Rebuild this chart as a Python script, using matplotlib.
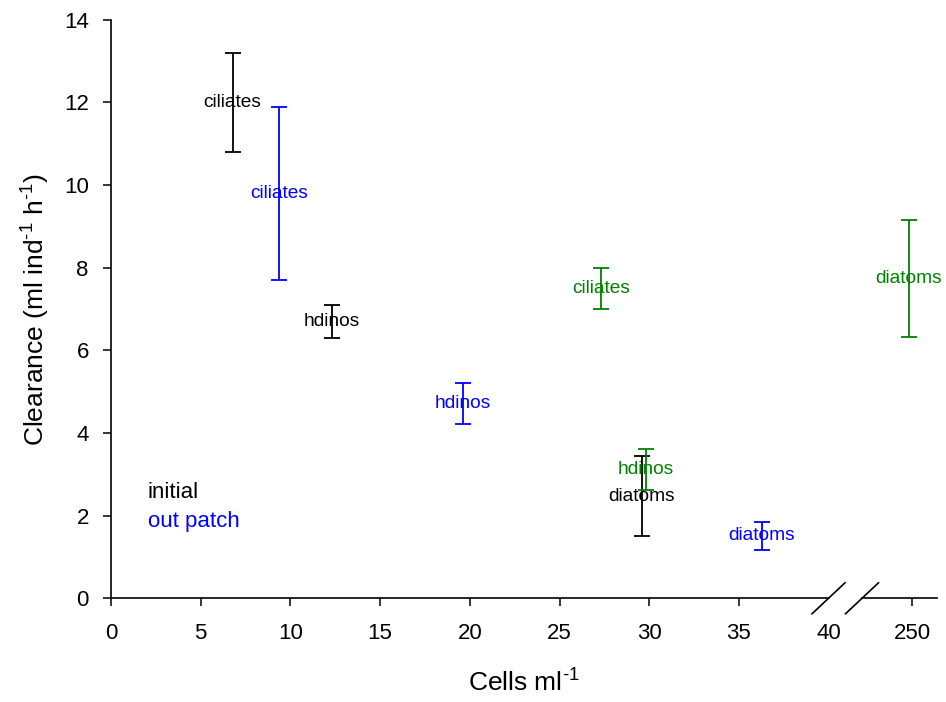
import matplotlib
matplotlib.use("Agg")
import matplotlib.pyplot as plt
from matplotlib.lines import Line2D

plt.rcParams['font.family'] = ['Liberation Sans', 'DejaVu Sans']
plt.rcParams['mathtext.fontset'] = 'custom'
plt.rcParams['mathtext.rm'] = 'Liberation Sans'
plt.rcParams['mathtext.it'] = 'Liberation Sans'

# Data: (cells ml-1, clearance mean, clearance error)
groups = ["initial", "out patch", "in patch"]
colors = ["black", "#0000FF", "#008000"]
labels_initial = ["ciliates", "hdinos", "diatoms"]
x_initial = [6.78, 12.30, 29.58]
y_initial = [12.0, 6.70, 2.47]
e_initial = [1.20, 0.40, 0.96]

labels_out = ["ciliates", "hdinos", "diatoms"]
x_out = [9.38, 19.60, 36.27]
y_out = [9.80, 4.71, 1.51]
e_out = [2.09, 0.49, 0.34]

labels_in = ["ciliates", "hdinos"]
x_in = [27.30, 29.82]
y_in = [7.50, 3.12]
e_in = [0.50, 0.49]

# point beyond the axis break
labels_in_far = ["diatoms"]
x_in_far = [247.0]
y_in_far = [7.74]
e_in_far = [1.41]

xticks_main = [0, 5, 10, 15, 20, 25, 30, 35, 40]
xticks_far = [250]
yticks = [0, 2, 4, 6, 8, 10, 12, 14]

W, H = 946, 702
fig = plt.figure(figsize=(W / 100, H / 100), dpi=100)

def fx(px):
    return px / W

def fy(py):
    return 1 - py / H

ax_bottom, ax_top = 598.3, 19.5
ax1 = fig.add_axes([fx(111), fy(ax_bottom), fx(828.6) - fx(111), fy(ax_top) - fy(ax_bottom)])
ax2 = fig.add_axes([fx(862), fy(ax_bottom), fx(937) - fx(862), fy(ax_top) - fy(ax_bottom)])

tick_fs = 16
text_fs = 13.8
lbl_fs = 19

def draw(ax, xs, ys, es, labs, color):
    ax.errorbar(xs, ys, yerr=es, fmt='none', ecolor=color, elinewidth=1.3,
                capsize=6, capthick=1.3)
    for x, y, t in zip(xs, ys, labs):
        ax.text(x, y, t, color=color, fontsize=text_fs, ha='center', va='center')

draw(ax1, x_initial, y_initial, e_initial, labels_initial, colors[0])
draw(ax1, x_out, y_out, e_out, labels_out, colors[1])
draw(ax1, x_in, y_in, e_in, labels_in, colors[2])
draw(ax2, x_in_far, y_in_far, e_in_far, labels_in_far, colors[2])

ax1.set_xlim(0, 40)
ax1.set_ylim(0, 14)
ax2.set_xlim(200, 275)
ax2.set_ylim(0, 14)

for ax in (ax1, ax2):
    ax.spines['top'].set_visible(False)
    ax.spines['right'].set_visible(False)
    ax.spines['bottom'].set_linewidth(1.2)
    ax.spines['left'].set_linewidth(1.2)
    ax.tick_params(direction='out', length=6, width=1.1, labelsize=tick_fs)
    ax.tick_params(axis='x', pad=12)
    ax.tick_params(axis='y', pad=10)
    ax.patch.set_visible(False)

ax1.set_xticks(xticks_main)
ax1.set_yticks(yticks)
ax2.set_xticks(xticks_far)
ax2.set_yticks([])
ax2.spines['left'].set_visible(False)

# hide tick mark at 40 (the break)
ax1.get_xticklines()[-2].set_visible(False)

ax1.text(2.06, 2.57, groups[0], color=colors[0], fontsize=16, ha='left', va='center')
ax1.text(2.06, 1.85, groups[1], color=colors[1], fontsize=16, ha='left', va='center')

fig.text(fx(36), fy(310), r'Clearance (ml ind$^{\text{-}\mathregular{1}}$ h$^{\text{-}\mathregular{1}}$)',
         fontsize=lbl_fs, ha='center', va='center', rotation=90)
fig.text(fx(524), fy(683), r'Cells ml$^{\text{-}\mathregular{1}}$', fontsize=lbl_fs, ha='center', va='center')

# break marks
for cx in (828.5, 862):
    fig.add_artist(Line2D([fx(cx - 16.5), fx(cx + 16.5)], [fy(ax_bottom + 15.5), fy(ax_bottom - 15.5)],
                          color='black', lw=1.2))

fig.savefig("out.png", dpi=100)
